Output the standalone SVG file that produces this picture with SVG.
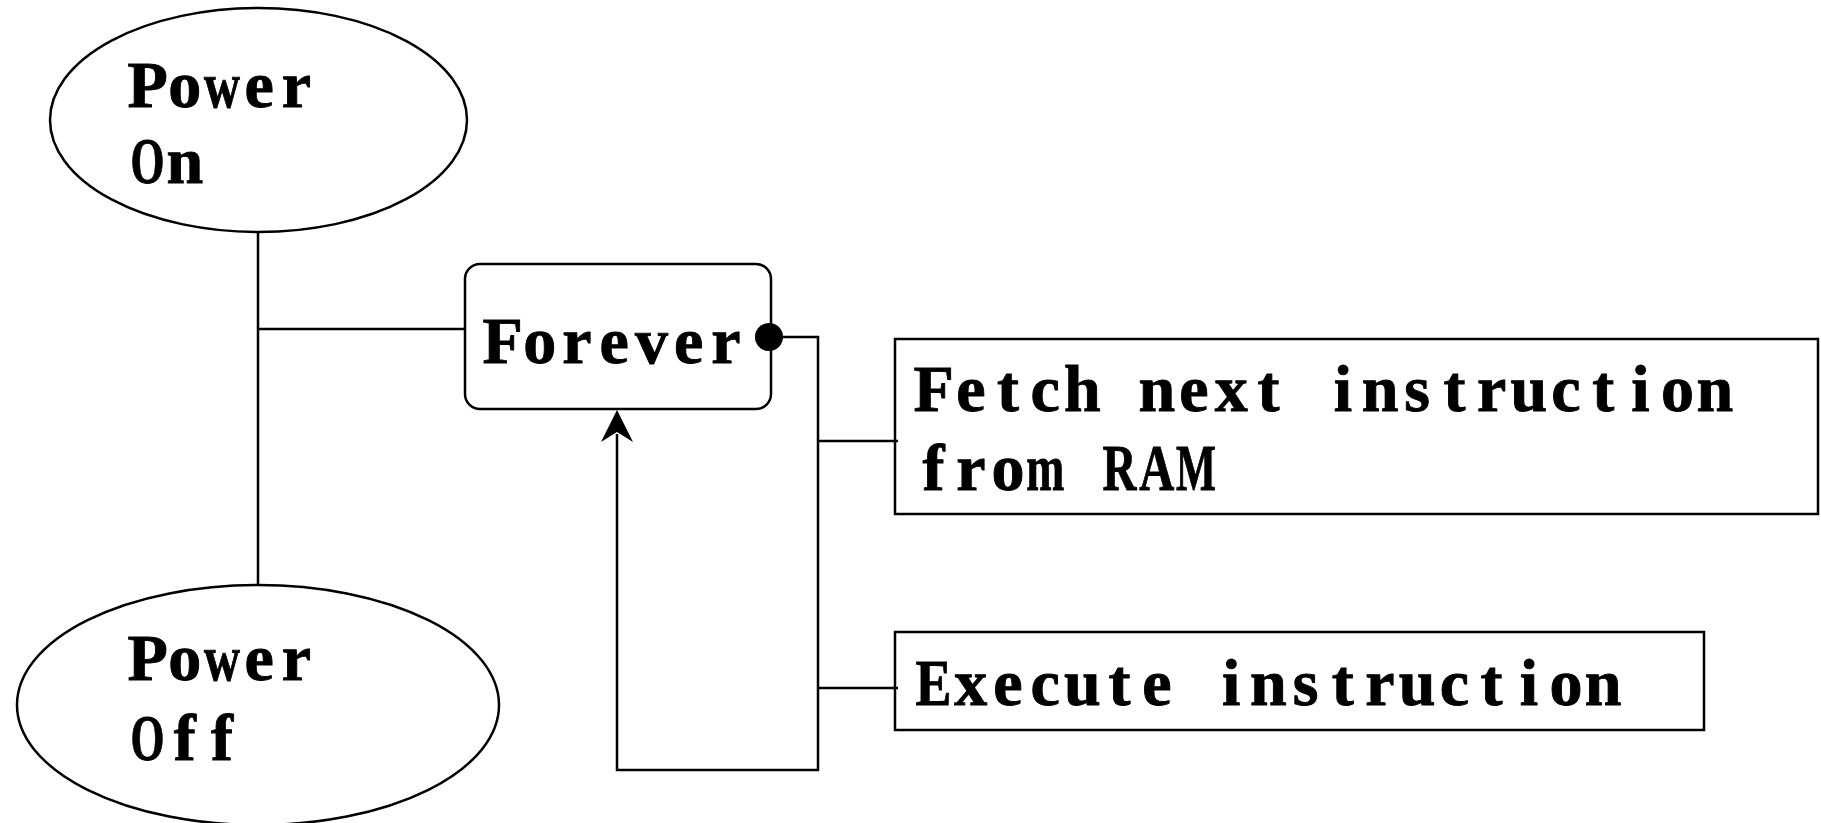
<svg xmlns="http://www.w3.org/2000/svg" width="1821" height="823" viewBox="0 0 1821 823">
<style>
.shape{fill:#fff;stroke:#000;stroke-width:2.5}
.ln{fill:none;stroke:#000;stroke-width:2.5}
.t{font-family:"Liberation Serif","DejaVu Serif",serif;font-weight:bold;font-size:66px;fill:#000;stroke:#000;stroke-width:0.9;text-anchor:middle}
</style>
<rect width="1821" height="823" fill="#fff"/>
<g id="power-on">
<ellipse class="shape" cx="258.5" cy="120" rx="208.5" ry="112"/>
<text class="t" y="107"><tspan x="147.6 184.8">Po</tspan><tspan x="222" textLength="36" lengthAdjust="spacingAndGlyphs">w</tspan><tspan x="259.2 296.4">er</tspan></text>
<text class="t" y="183"><tspan x="147.6" textLength="34" lengthAdjust="spacingAndGlyphs">O</tspan><tspan x="184.8">n</tspan></text>
</g>
<g id="power-off">
<ellipse class="shape" cx="258" cy="705" rx="241" ry="120"/>
<text class="t" y="680"><tspan x="147.6 184.8">Po</tspan><tspan x="222" textLength="36" lengthAdjust="spacingAndGlyphs">w</tspan><tspan x="259.2 296.4">er</tspan></text>
<text class="t" y="760"><tspan x="147.6" textLength="34" lengthAdjust="spacingAndGlyphs">O</tspan><tspan x="184.8 222">ff</tspan></text>
</g>
<g id="forever">
<rect class="shape" x="465" y="264" width="306" height="145" rx="15" ry="15"/>
<text class="t" x="502.6 539.8 577 614.2 651.4 688.6 725.8" y="363">Forever</text>
</g>
<g id="fetch">
<rect class="shape" x="895" y="339" width="923" height="175"/>
<text class="t" x="933.6 970.8 1008 1045.2 1082.4 1119.6 1156.8 1194 1231.2 1268.4 1305.6 1342.8 1380 1417.2 1454.4 1491.6 1528.8 1566 1603.2 1640.4 1677.6 1714.8" y="411">Fetch next instruction</text>
<text class="t" y="490"><tspan x="933.6 970.8 1008">fro</tspan><tspan x="1045.2" textLength="38" lengthAdjust="spacingAndGlyphs">m</tspan><tspan x="1082.4"> </tspan><tspan x="1119.6" textLength="34" lengthAdjust="spacingAndGlyphs">R</tspan><tspan x="1156.8" textLength="35" lengthAdjust="spacingAndGlyphs">A</tspan><tspan x="1196" textLength="40" lengthAdjust="spacingAndGlyphs">M</tspan></text>
</g>
<g id="execute">
<rect class="shape" x="895" y="632" width="809" height="98"/>
<text class="t" y="705"><tspan x="933.6" textLength="36" lengthAdjust="spacingAndGlyphs">E</tspan><tspan x="970.8 1008 1045.2 1082.4 1119.6 1156.8 1194 1231.2 1268.4 1305.6 1342.8 1380 1417.2 1454.4 1491.6 1528.8 1566 1603.2">xecute instruction</tspan></text>
</g>
<g id="connectors">
<polyline class="ln" points="258,232 258,585"/>
<polyline class="ln" points="258,329 465,329"/>
<polyline class="ln" points="769,337 818,337 818,770 617,770 617,434"/>
<path d="M617,410 L633,442 L617,432 L601,442 Z" fill="#000"/>
<polyline class="ln" points="818,441 898,441"/>
<polyline class="ln" points="818,688 898,688"/>
<circle cx="769" cy="337" r="14" fill="#000"/>
</g>
</svg>
